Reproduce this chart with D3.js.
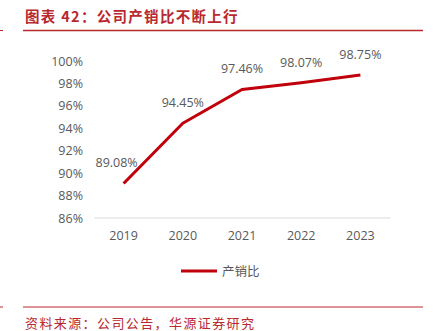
<!DOCTYPE html>
<html><head><meta charset="utf-8">
<script src="https://cdn.jsdelivr.net/npm/d3@7/dist/d3.min.js"></script>
<style>body{margin:0;background:#fff;} svg{display:block;}</style>
</head><body>
<svg id="c" width="433" height="331"></svg>
<script>
const years = ["2019","2020","2021","2022","2023"];
const ratio = [89.08, 94.45, 97.46, 98.07, 98.75];
const yTicks = [86, 88, 90, 92, 94, 96, 98, 100];
const seriesName = "产销比";
const titleText = "图表 42：公司产销比不断上行";
const sourceText = "资料来源：公司公告，华源证券研究";

const svg = d3.select("#c");
const red = "#C0000B";
const txtRed = "#B8292F";
const gray = "#595959";
const font = "'Noto Sans CJK SC','Noto Sans',sans-serif";

// title
svg.append("text").attr("x", 25).attr("y", 22).attr("fill", txtRed)
  .attr("font-family", font).attr("font-size", 14.5).attr("font-weight", "bold")
  .attr("letter-spacing", 1.3).text(titleText);
svg.append("line").attr("x1", 23).attr("x2", 423).attr("y1", 30.5).attr("y2", 30.5)
  .attr("stroke", txtRed).attr("stroke-width", 1.3);
svg.append("line").attr("x1", 0).attr("x2", 3).attr("y1", 30.5).attr("y2", 30.5)
  .attr("stroke", txtRed).attr("stroke-width", 1);

// scales
const x = d3.scaleBand().domain(years).range([94, 390]);
const y = d3.scaleLinear().domain([86, 100]).range([218, 61]);

// y axis
const ya = svg.append("g").attr("transform", "translate(88,0)")
  .call(d3.axisLeft(y).tickValues(yTicks).tickFormat(d => d + "%").tickSize(0).tickPadding(5));
ya.select(".domain").remove();
ya.selectAll("text").attr("fill", gray).attr("font-family", "'Open Sans','Noto Sans',sans-serif").attr("font-size", 12.5);

// baseline
svg.append("line").attr("x1", 94).attr("x2", 390).attr("y1", y(86)).attr("y2", y(86))
  .attr("stroke", "#D9D9D9").attr("stroke-width", 1);

// x axis
const xa = svg.append("g").attr("transform", `translate(0,${y(86)})`)
  .call(d3.axisBottom(x).tickSize(0).tickPadding(13));
xa.select(".domain").remove();
xa.selectAll("text").attr("fill", gray).attr("font-family", "'Open Sans','Noto Sans',sans-serif").attr("font-size", 12.5);

// line
const cx = d => x(d) + x.bandwidth() / 2;
const line = d3.line().x((d, i) => cx(years[i])).y(d => y(d));
svg.append("path").datum(ratio).attr("d", line).attr("fill", "none")
  .attr("stroke", red).attr("stroke-width", 3).attr("stroke-linejoin", "round");

// labels
svg.selectAll(".lbl").data(ratio).enter().append("text")
  .attr("x", (d, i) => cx(years[i]) + (i === 0 ? -7 : 0))
  .attr("y", d => y(d) - 16)
  .attr("text-anchor", "middle").attr("fill", gray)
  .attr("font-family", "'Open Sans','Noto Sans',sans-serif").attr("font-size", 12.5)
  .text(d => d.toFixed(2) + "%");

// legend
svg.append("line").attr("x1", 181).attr("x2", 217).attr("y1", 271).attr("y2", 271)
  .attr("stroke", red).attr("stroke-width", 3);
svg.append("text").attr("x", 222).attr("y", 275.5).attr("fill", gray)
  .attr("font-family", font).attr("font-size", 12.5).text(seriesName);

// footer
svg.append("line").attr("x1", 23).attr("x2", 423).attr("y1", 307).attr("y2", 307)
  .attr("stroke", txtRed).attr("stroke-width", 1.2);
svg.append("line").attr("x1", 0).attr("x2", 3).attr("y1", 307).attr("y2", 307)
  .attr("stroke", txtRed).attr("stroke-width", 1);
svg.append("text").attr("x", 25).attr("y", 328).attr("fill", txtRed)
  .attr("font-family", font).attr("font-size", 13).attr("letter-spacing", 1.4).text(sourceText);
</script>
</body></html>
